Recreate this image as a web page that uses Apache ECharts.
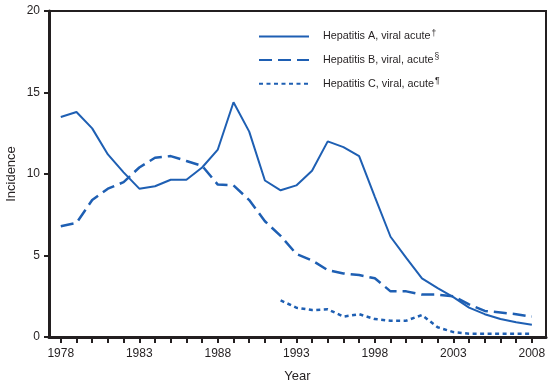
<!DOCTYPE html>
<html>
<head>
<meta charset="utf-8">
<script src="https://cdn.jsdelivr.net/npm/echarts@6/dist/echarts.min.js"></script>
<style>html,body{margin:0;padding:0;background:#fff;}#c{width:560px;height:386px;}</style>
</head>
<body>
<div id="c"></div>
<script>
var years = [1978,1979,1980,1981,1982,1983,1984,1985,1986,1987,1988,1989,1990,1991,1992,1993,1994,1995,1996,1997,1998,1999,2000,2001,2002,2003,2004,2005,2006,2007,2008];
var hepA = [13.5,13.8,12.8,11.2,10.1,9.1,9.25,9.65,9.65,10.4,11.5,14.4,12.6,9.6,9.0,9.3,10.2,12.0,11.65,11.1,8.6,6.15,4.85,3.6,3.0,2.45,1.8,1.4,1.1,0.9,0.75];
var hepB = [6.8,7.0,8.4,9.1,9.5,10.4,11.0,11.1,10.8,10.5,9.35,9.3,8.4,7.1,6.2,5.1,4.7,4.1,3.9,3.8,3.6,2.8,2.8,2.6,2.6,2.5,2.0,1.6,1.5,1.4,1.25];
var hepC = [null,null,null,null,null,null,null,null,null,null,null,null,null,null,2.25,1.8,1.65,1.7,1.25,1.4,1.1,1.0,1.0,1.35,0.6,0.3,0.2,0.2,0.2,0.2,0.2];
var xTickLabels = [1978,1983,1988,1993,1998,2003,2008];
var yTicks = [0,5,10,15,20];
var seriesNames = ['Hepatitis A, viral acute','Hepatitis B, viral, acute','Hepatitis C, viral, acute'];
var seriesMarks = ['†','§','¶'];

function pairs(vals){ return years.map(function(y,i){ return [y, vals[i]]; }); }
var col = '#1e5fb3';
var ink = '#231f20';
var chart = echarts.init(document.getElementById('c'), null, {renderer:'canvas'});
chart.setOption({
  animation:false,
  backgroundColor:'#fff',
  grid:{left:49,right:14,top:11,bottom:49,outerBoundsMode:'none',containLabel:false,show:true,borderColor:ink,borderWidth:2,backgroundColor:'transparent'},
  legend:{
    left:253,top:24,orient:'vertical',align:'left',padding:5,
    itemWidth:50,itemHeight:14,itemGap:10.5,
    itemStyle:{opacity:0},
    data:seriesNames,
    formatter:function(n){ var i=seriesNames.indexOf(n); return n+'{s|'+seriesMarks[i]+'}'; },
    textStyle:{fontFamily:'Liberation Sans',fontSize:10.8,color:ink,padding:[0,0,0,9],
      rich:{s:{fontSize:8.5,verticalAlign:'top',padding:[0,0,6,1],color:ink,fontFamily:'Liberation Sans'}}}
  },
  xAxis:{
    type:'value',min:1977.25,max:2008.9,
    name:'Year',nameLocation:'middle',nameGap:33,
    nameTextStyle:{fontFamily:'Liberation Sans',fontSize:13,color:ink},
    axisLine:{show:true,onZero:false,lineStyle:{color:ink,width:3}},
    axisTick:{show:true,length:6,lineStyle:{color:ink,width:2},customValues:years},
    axisLabel:{customValues:xTickLabels,formatter:function(v){return String(v);},fontFamily:'Liberation Sans',fontSize:12,color:ink,margin:11},
    splitLine:{show:false}
  },
  yAxis:{
    type:'value',min:0,max:20,interval:5,
    name:'Incidence',nameLocation:'middle',nameGap:31,nameMoveOverlap:false,
    nameTextStyle:{fontFamily:'Liberation Sans',fontSize:13,color:ink},
    axisLine:{show:true,lineStyle:{color:ink,width:3}},
    axisTick:{show:true,length:5,lineStyle:{color:ink,width:2},customValues:yTicks},
    axisLabel:{customValues:yTicks,fontFamily:'Liberation Sans',fontSize:12,color:ink,margin:9},
    splitLine:{show:false}
  },
  series:[
    {name:seriesNames[0],type:'line',symbol:'none',data:pairs(hepA),lineStyle:{color:col,width:2},itemStyle:{color:col}},
    {name:seriesNames[1],type:'line',symbol:'none',data:pairs(hepB),lineStyle:{color:col,width:2.5,type:[13,6]},itemStyle:{color:col}},
    {name:seriesNames[2],type:'line',symbol:'none',data:pairs(hepC),connectNulls:false,lineStyle:{color:col,width:2.5,type:[4,3.5]},itemStyle:{color:col}}
  ]
});
</script>
</body>
</html>
